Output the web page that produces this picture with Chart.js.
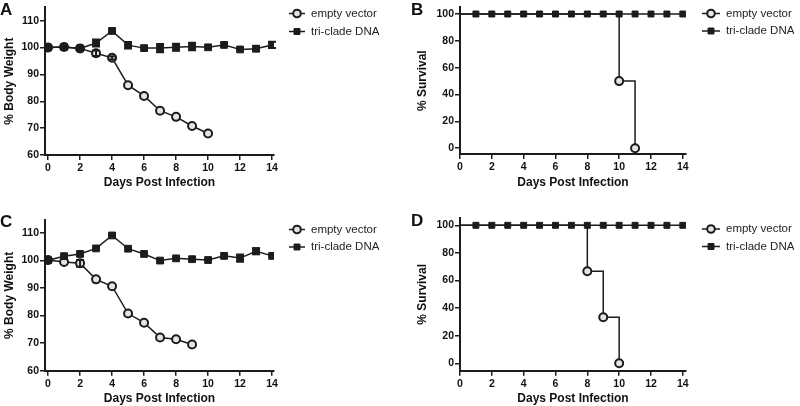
<!DOCTYPE html>
<html>
<head>
<meta charset="utf-8">
<script src="https://cdn.jsdelivr.net/npm/chart.js@4.4.1/dist/chart.umd.min.js"></script>
<style>
  body { margin: 0; background: #fff; }
  #wrap { position: relative; width: 800px; height: 406px; overflow: hidden; }
  canvas { position: absolute; }
  .tag { position: absolute; font: bold 17px 'Liberation Sans', Arial, sans-serif; line-height: 17px; color: #111; }
</style>
</head>
<body>
<div id="wrap">
  <canvas id="weightA" width="400" height="200" style="left:0;top:0"></canvas>
  <canvas id="survB" width="400" height="200" style="left:400px;top:0"></canvas>
  <canvas id="weightC" width="400" height="206" style="left:0;top:200px"></canvas>
  <canvas id="survD" width="400" height="206" style="left:400px;top:200px"></canvas>
  <div class="tag" style="left:0;top:1px">A</div>
  <div class="tag" style="left:411px;top:1px">B</div>
  <div class="tag" style="left:0;top:213px">C</div>
  <div class="tag" style="left:411px;top:212px">D</div>
</div>
<script>
/* ── defaults, graphpad look ── */
Chart.defaults.font.family = "'Liberation Sans', Arial, sans-serif";
Chart.defaults.color = '#111';
Chart.defaults.animation = false;
Chart.defaults.plugins.legend.display = false;
Chart.defaults.plugins.tooltip.enabled = false;

const INK = '#1c1c1c';
const RING_FILL = '#e4e4e4';

/* ── data ── */
const days = [0, 1, 2, 3, 4, 5, 6, 7, 8, 9, 10, 11, 12, 13, 14];
const dayTicks = [0, 2, 4, 6, 8, 10, 12, 14];
const weightTicks = [60, 70, 80, 90, 100, 110];
const survTicks = [0, 20, 40, 60, 80, 100];
const seriesNames = ['empty vector', 'tri-clade DNA'];

// A: body weight, first study
const weightEmptyA = [100.0, 100.2, 99.7, 97.9, 96.2, 86.0, 82.0, 76.5, 74.2, 70.8, 68.0];
const errEmptyA    = [0, 0, 0, 1.0, 0.6, 0, 0, 0, 0, 0, 0];
const weightTriA   = [100.0, 100.2, 99.7, 101.7, 106.2, 100.9, 99.8, 99.8, 100.1, 100.4, 100.1, 101.0, 99.3, 99.6, 101.0];
const errTriA      = [0, 0, 0, 1.3, 0.5, 1.2, 0, 1.5, 1.3, 1.4, 0, 0, 0, 1.0, 1.2];

// B: survival, first study
const survEmptyDaysB = [0, 10, 11];
const survEmptyB     = [100, 50, 0];
const survTriB       = [100, 100, 100, 100, 100, 100, 100, 100, 100, 100, 100, 100, 100, 100, 100];

// C: body weight, second study
const weightEmptyC = [100.1, 99.4, 98.9, 93.1, 90.6, 80.7, 77.4, 72.0, 71.4, 69.5];
const errEmptyC    = [0, 0, 1.2, 0, 0, 0, 0, 0, 0, 0];
const weightTriC   = [100.0, 101.5, 102.3, 104.3, 109.0, 104.2, 102.3, 99.9, 100.7, 100.4, 100.1, 101.6, 100.8, 103.3, 101.6];
const errTriC      = [0, 0, 0, 0, 0.4, 0, 0, 0, 0, 0, 0, 0, 1.3, 1.1, 0];

// D: survival, second study
const survEmptyDaysD = [0, 8, 9, 10];
const survEmptyD     = [100, 66.7, 33.3, 0];
const survTriD       = [100, 100, 100, 100, 100, 100, 100, 100, 100, 100, 100, 100, 100, 100, 100];

/* ── plugins ── */
const errorBars = {
  id: 'errorBars',
  afterDatasetsDraw(chart) {
    const ctx = chart.ctx, xs = chart.scales.x, ys = chart.scales.y;
    chart.data.datasets.forEach(ds => {
      if (!ds.errors) return;
      ctx.save();
      ctx.strokeStyle = INK;
      ctx.lineWidth = 2;
      ds.data.forEach((p, i) => {
        const e = ds.errors[i];
        if (!e) return;
        const px = xs.getPixelForValue(p.x);
        const lo = ys.getPixelForValue(p.y - e), hi = ys.getPixelForValue(p.y + e);
        ctx.beginPath();
        ctx.moveTo(px, lo); ctx.lineTo(px, hi);
        ctx.moveTo(px - 4, lo); ctx.lineTo(px + 4, lo);
        ctx.moveTo(px - 4, hi); ctx.lineTo(px + 4, hi);
        ctx.stroke();
      });
      ctx.restore();
    });
  }
};

const sideLegend = {
  id: 'sideLegend',
  afterDraw(chart, args, opts) {
    const ctx = chart.ctx;
    ctx.save();
    seriesNames.forEach((name, i) => {
      const ds = chart.data.datasets.find(d => d.label === name);
      const y = opts.y + i * opts.gap;
      ctx.strokeStyle = INK;
      ctx.lineWidth = 1.5;
      ctx.beginPath();
      ctx.moveTo(opts.x, y); ctx.lineTo(opts.x + opts.len, y);
      ctx.stroke();
      ctx.fillStyle = ds.pointStyle === 'circle' ? RING_FILL : INK;
      ctx.strokeStyle = INK;
      ctx.lineWidth = ds.pointStyle === 'circle' ? 2 : 1;
      Chart.helpers.drawPoint(ctx, { pointStyle: ds.pointStyle, radius: ds.pointStyle === 'circle' ? 3.8 : 4.2, borderWidth: ctx.lineWidth, rotation: 0 }, opts.x + opts.len / 2, y);
      ctx.fillStyle = '#222';
      ctx.font = "11.5px 'Liberation Sans', Arial, sans-serif";
      ctx.textBaseline = 'middle';
      ctx.fillText(name, opts.x + opts.len + 6, y);
    });
    ctx.restore();
  }
};

/* ── helpers ── */
function pts(xs, ys) {
  return ys.map((v, i) => ({ x: xs[i], y: v }));
}

function emptySet(data, errors, extra) {
  return Object.assign({
    label: 'empty vector',
    data,
    errors,
    borderColor: INK,
    borderWidth: 1.5,
    pointStyle: 'circle',
    pointRadius: 4,
    pointBorderWidth: 2,
    pointBorderColor: INK,
    pointBackgroundColor: RING_FILL,
    order: 2,
  }, extra || {});
}

function triSet(data, errors, extra) {
  return Object.assign({
    label: 'tri-clade DNA',
    data,
    errors,
    borderColor: INK,
    borderWidth: 1.5,
    pointStyle: 'rect',
    pointRadius: 4.8,
    pointBorderWidth: 1,
    pointBorderColor: INK,
    pointBackgroundColor: INK,
    order: 1,
  }, extra || {});
}

function panel(id, datasets, box, yAxis, legendPos) {
  const cv = document.getElementById(id);
  return new Chart(cv, {
    type: 'line',
    data: { datasets },
    plugins: [errorBars, sideLegend],
    options: {
      responsive: false,
      devicePixelRatio: 1,
      layout: { padding: { left: 0, top: box.top, right: cv.width - box.right, bottom: 0 } },
      plugins: { sideLegend: legendPos },
      scales: {
        x: {
          type: 'linear',
          min: box.xmin, max: box.xmax,
          afterBuildTicks: s => { s.ticks = dayTicks.map(v => ({ value: v })); },
          afterFit: s => { s.height = cv.height - box.bottom; },
          grid: { drawOnChartArea: false, tickLength: 5, color: INK, lineWidth: 1.5 },
          border: { color: INK, width: 2 },
          ticks: { padding: 2, font: { size: 10.5, weight: 'bold' }, color: '#111', maxRotation: 0 },
          title: { display: true, text: 'Days Post Infection', font: { size: 12, weight: 'bold' }, color: '#111', padding: { top: 0, bottom: box.titleGap } },
        },
        y: {
          min: yAxis.min, max: yAxis.max,
          afterBuildTicks: s => { s.ticks = yAxis.ticks.map(v => ({ value: v })); },
          afterFit: s => { s.width = box.left; },
          grid: { drawOnChartArea: false, tickLength: 5, color: INK, lineWidth: 1.5 },
          border: { color: INK, width: 2 },
          ticks: { padding: 1, font: { size: 10.5, weight: 'bold' }, color: '#111' },
          title: { display: true, text: yAxis.title, font: { size: 12, weight: 'bold' }, color: '#111', padding: { top: yAxis.titlePad, bottom: 0 } },
        }
      }
    }
  });
}

/* ── A. body weight ── */
panel('weightA', [
  emptySet(pts(days, weightEmptyA), errEmptyA),
  triSet(pts(days, weightTriA), errTriA),
], { left: 45, top: 3, right: 274, bottom: 155, xmin: -0.19, xmax: 14.12, titleGap: 10 },
   { min: 60, max: 115, ticks: weightTicks, title: '% Body Weight', titlePad: 2 },
   { x: 289, y: 13.5, gap: 18, len: 16 });

/* ── B. survival ── */
panel('survB', [
  emptySet(pts(survEmptyDaysB, survEmptyB), null, { stepped: true, pointRadius: [0, 4, 4] }),
  triSet(pts(days, survTriB), null, { pointRadius: days.map(d => d === 0 ? 0 : 4.2) }),
], { left: 60, top: 3, right: 286, bottom: 154, xmin: 0, xmax: 14.2, titleGap: 10 },
   { min: -4.3, max: 105, ticks: survTicks, title: '% Survival', titlePad: 15 },
   { x: 302, y: 13.5, gap: 17.5, len: 18 });

/* ── C. body weight ── */
panel('weightC', [
  emptySet(pts(days, weightEmptyC), errEmptyC),
  triSet(pts(days, weightTriC), errTriC),
], { left: 45, top: 20, right: 274, bottom: 170.7, xmin: -0.19, xmax: 14.12, titleGap: 0 },
   { min: 60, max: 114.6, ticks: weightTicks, title: '% Body Weight', titlePad: 2 },
   { x: 289, y: 29.5, gap: 17.5, len: 16 });

/* ── D. survival ── */
panel('survD', [
  emptySet(pts(survEmptyDaysD, survEmptyD), null, { stepped: true, pointRadius: [0, 4, 4, 4] }),
  triSet(pts(days, survTriD), null, { pointRadius: days.map(d => d === 0 ? 0 : 4.2) }),
], { left: 60, top: 18, right: 286, bottom: 170.7, xmin: 0, xmax: 14.2, titleGap: 0 },
   { min: -5.4, max: 105.3, ticks: survTicks, title: '% Survival', titlePad: 15 },
   { x: 302, y: 29, gap: 17.5, len: 18 });
</script>
</body>
</html>
